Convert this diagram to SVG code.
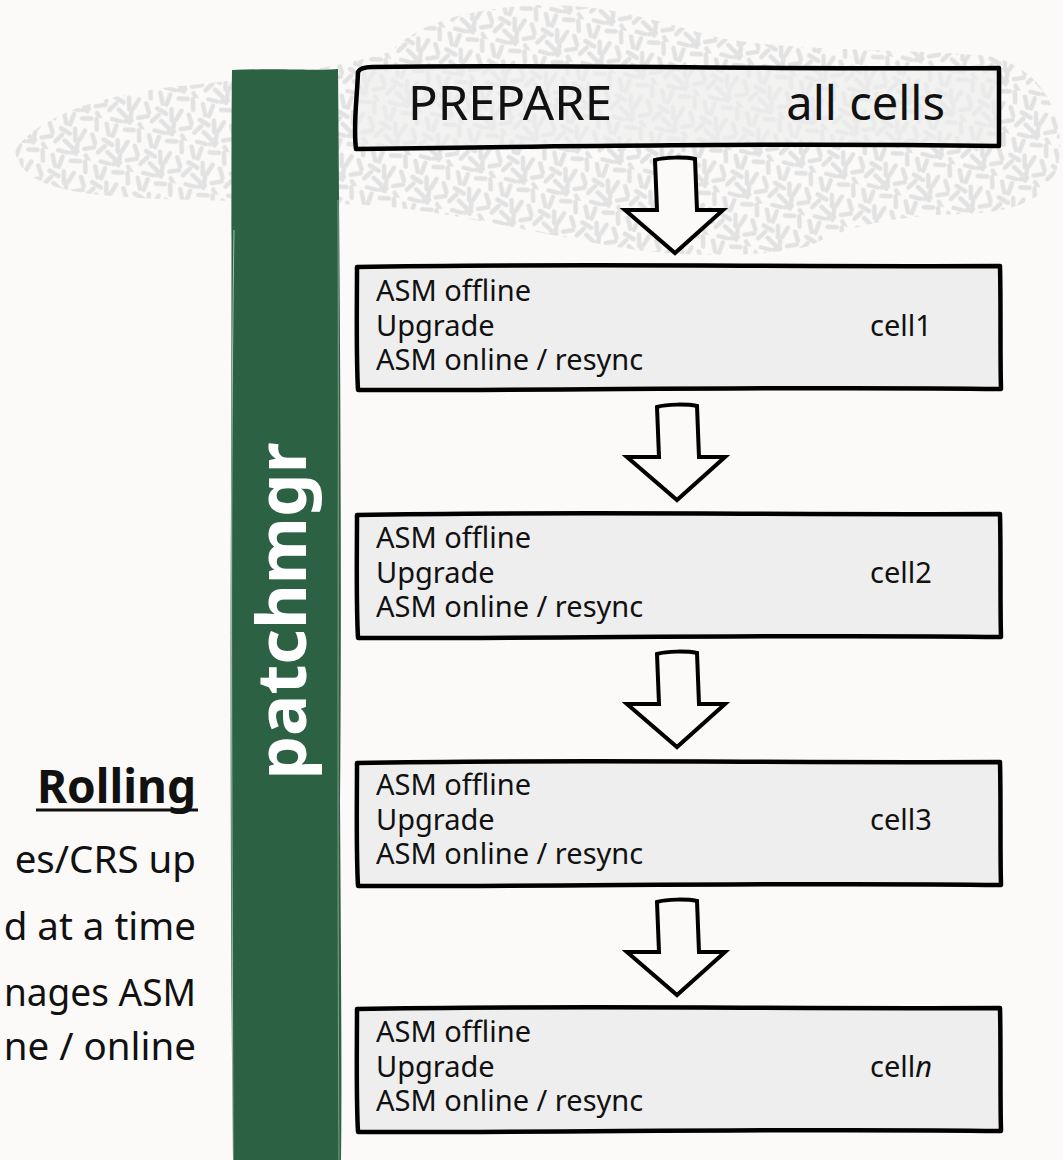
<svg xmlns="http://www.w3.org/2000/svg" width="1063" height="1160" viewBox="0 0 1063 1160">
  <style>
    .box { fill: #eeeeee; stroke: #000; stroke-width: 4.5; stroke-linejoin: round; }
    .arrow { fill: #fbfaf9; stroke: #000; stroke-width: 4; stroke-linejoin: miter; }
    .cell { font-family: "Noto Sans", "Open Sans", sans-serif; font-size: 29px; fill: #111; }
    .side { font-family: "Noto Sans", "Open Sans", sans-serif; font-size: 38.5px; fill: #111; text-anchor: end; }
  </style>
  <defs>
    <pattern id="squiggle" width="44" height="44" patternUnits="userSpaceOnUse" patternTransform="rotate(15)">
      <path d="M3 4 l5 10 M13 3 l-1 11 M22 5 l9 -2 M36 2 l3 10 M4 20 l10 3 M18 17 l3 11 M28 16 l-3 10 M36 18 l5 8 M2 34 l5 -8 M11 31 l9 5 M24 30 l1 11 M32 34 l9 -4 M7 42 l9 0 M20 41 l6 -3 M35 40 l4 4" fill="none" stroke="#e2e2e2" stroke-width="4.5" stroke-linecap="round"/>
    </pattern>
    <path id="cellbox" d="M1,3 C200,-1 420,3 644,2 C645,40 644,90 645,125 C430,122 200,127 2,126 C0,90 1,40 1,3 Z"/>
    <path id="downarrow" d="M-20,2 C-10,-1 10,-1 20,1 L22,52 L48,52 L0,95 L-50,52 L-18,52 Z"/>
  </defs>

  <!-- page -->
  <rect width="1063" height="1160" fill="#fbfaf9"/>

  <!-- textured backdrop behind the header -->
  <path d="M15,150 C40,115 100,95 180,86 C260,78 330,70 390,52 C420,22 470,8 540,5 C610,4 660,22 720,38 C800,52 900,48 990,56 C1040,68 1062,110 1060,150 C1058,192 1030,212 960,214 C900,216 850,224 810,246 C760,258 680,258 610,246 C530,232 450,212 380,206 C300,200 220,202 140,198 C70,194 20,186 15,150 Z" fill="url(#squiggle)"/>

  <!-- patchmgr bar -->
  <g id="patchmgr">
    <path d="M232,70 C280,68 320,71 338,69 C340,300 342,600 340,800 C341,950 342,1100 341,1160 L233,1160 C231,1000 230,700 231,500 C232,300 231,150 232,70 Z" fill="#2c6243"/>
    <path d="M234,230 C230,500 232,800 233,1160" fill="none" stroke="#ffffff" stroke-opacity="0.6" stroke-width="1"/>
    <path d="M338,200 C339,500 337,800 339,1160" fill="none" stroke="#ffffff" stroke-opacity="0.4" stroke-width="1"/>
    <text transform="translate(306,611) rotate(-90)" text-anchor="middle" font-family="'Noto Sans', 'Open Sans', sans-serif" font-weight="bold" font-size="69" fill="#ffffff">patchmgr</text>
  </g>

  <!-- connectors -->
  <g id="connectors">
    <use href="#downarrow" class="arrow" transform="translate(675,158)"/>
    <use href="#downarrow" class="arrow" transform="translate(677,405)"/>
    <use href="#downarrow" class="arrow" transform="translate(677,652)"/>
    <use href="#downarrow" class="arrow" transform="translate(677,900)"/>
  </g>

  <!-- prepare step -->
  <g id="prepare">
    <path d="M358,72 C360,68 365,67 372,67 C560,64 780,70 999,68 L999,146 C780,143 560,146 356,149 C353,125 357,100 358,72 Z" fill="#eeeeee" fill-opacity="0.7" stroke="#000" stroke-width="4.5" stroke-linejoin="round"/>
    <text x="408" y="120" font-family="'Noto Sans', 'Open Sans', sans-serif" font-size="47" fill="#111" textLength="204" lengthAdjust="spacingAndGlyphs">PREPARE</text>
    <text x="945" y="120" text-anchor="end" font-family="'Noto Sans', 'Open Sans', sans-serif" font-size="47" fill="#111">all cells</text>
  </g>

  <!-- per-cell steps -->
  <g id="cell1" transform="translate(356,264)">
    <use href="#cellbox" class="box"/>
    <text class="cell" x="20" y="37">ASM offline</text>
    <text class="cell" x="20" y="72">Upgrade</text>
    <text class="cell" x="20" y="106">ASM online / resync</text>
    <text class="cell" x="514" y="72">cell1</text>
  </g>
  <g id="cell2" transform="translate(356,512)">
    <use href="#cellbox" class="box"/>
    <text class="cell" x="20" y="36">ASM offline</text>
    <text class="cell" x="20" y="71">Upgrade</text>
    <text class="cell" x="20" y="105">ASM online / resync</text>
    <text class="cell" x="514" y="71">cell2</text>
  </g>
  <g id="cell3" transform="translate(356,760)">
    <use href="#cellbox" class="box"/>
    <text class="cell" x="20" y="35">ASM offline</text>
    <text class="cell" x="20" y="70">Upgrade</text>
    <text class="cell" x="20" y="104">ASM online / resync</text>
    <text class="cell" x="514" y="70">cell3</text>
  </g>
  <g id="celln" transform="translate(356,1006)">
    <use href="#cellbox" class="box"/>
    <text class="cell" x="20" y="36">ASM offline</text>
    <text class="cell" x="20" y="71">Upgrade</text>
    <text class="cell" x="20" y="105">ASM online / resync</text>
    <text class="cell" x="514" y="71">cell<tspan font-style="italic">n</tspan></text>
  </g>

  <!-- rolling notes -->
  <g id="rolling">
    <text x="196" y="803" text-anchor="end" font-family="'Noto Sans', 'Open Sans', sans-serif" font-weight="bold" font-size="46" fill="#111">Rolling</text>
    <line x1="36" y1="810" x2="198" y2="810" stroke="#111" stroke-width="3"/>
    <text class="side" x="196" y="873">es/CRS up</text>
    <text class="side" x="196" y="940">d at a time</text>
    <text class="side" x="196" y="1006" textLength="192" lengthAdjust="spacingAndGlyphs">nages ASM</text>
    <text class="side" x="196" y="1060">ne / online</text>
  </g>
</svg>
